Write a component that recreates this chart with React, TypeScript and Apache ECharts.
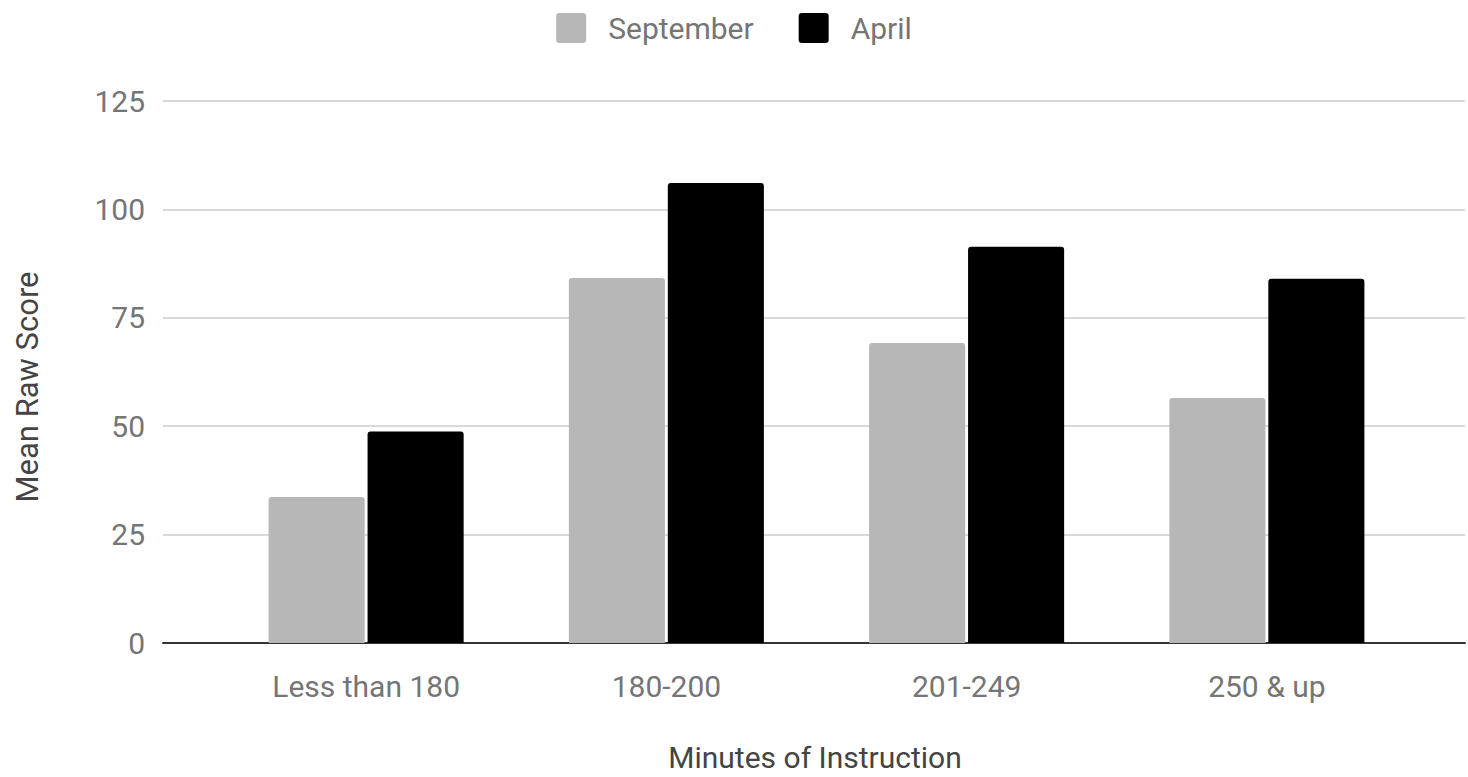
import React, { useEffect, useRef } from "react";
import * as echarts from "echarts";

const categories = ["Less than 180", "180-200", "201-249", "250 & up"];
const september = [33.7, 84.2, 69.2, 56.5];
const april = [48.8, 106.1, 91.4, 84.0];
const seriesNames = ["September", "April"];
const yTicks = { min: 0, max: 125, interval: 25 };
const xTitle = "Minutes of Instruction";
const yTitle = "Mean Raw Score";

const swatch = "path://M3,0 H27 Q30,0 30,3 V27 Q30,30 27,30 H3 Q0,30 0,27 V3 Q0,0 3,0 Z";

export default function App() {
  const ref = useRef<HTMLDivElement>(null);
  useEffect(() => {
    if (!ref.current) return;
    const chart = echarts.init(ref.current, null, { renderer: "svg" });
    const font = "Roboto";
    const tickColor = "#757575";
    const titleColor = "#444444";
    chart.setOption({
      animation: false,
      backgroundColor: "#ffffff",
      textStyle: { fontFamily: font },
      legend: {
        data: seriesNames,
        top: 8,
        left: "center",
        itemWidth: 30,
        itemHeight: 30,
        itemGap: 45,
        icon: swatch,
        textStyle: { fontFamily: font, fontSize: 30, color: tickColor, padding: [0, 0, 0, 17] },
      },
      grid: [
        { left: 163, right: 3, top: 101, bottom: 134, outerBoundsMode: "none" },
        { left: 216, right: 51, top: 101, bottom: 134, outerBoundsMode: "none" },
      ],
      graphic: [
        {
          type: "text",
          x: 815,
          y: 757,
          style: {
            text: xTitle,
            fontFamily: font,
            fontSize: 30,
            fill: titleColor,
            align: "center",
            verticalAlign: "middle",
          },
        },
        {
          type: "text",
          x: 27,
          y: 387,
          rotation: Math.PI / 2,
          style: {
            text: yTitle,
            fontFamily: font,
            fontSize: 31,
            fill: titleColor,
            align: "center",
            verticalAlign: "middle",
          },
        },
      ],
      xAxis: [
        {
          gridIndex: 0,
          type: "value",
          min: 0,
          max: 1,
          axisLabel: { show: false },
          axisTick: { show: false },
          splitLine: { show: false },
          axisLine: { show: true, lineStyle: { color: "#333333", width: 2 } },
        },
        {
          gridIndex: 1,
          type: "category",
          data: categories,
          axisLine: { show: false },
          axisTick: { show: false },
          axisLabel: { fontFamily: font, fontSize: 30, color: tickColor, margin: 28 },
        },
      ],
      yAxis: [
        {
          gridIndex: 0,
          type: "value",
          min: yTicks.min,
          max: yTicks.max,
          interval: yTicks.interval,
          axisLine: { show: false },
          axisTick: { show: false },
          axisLabel: { fontFamily: font, fontSize: 30, color: tickColor, margin: 18 },
          splitLine: { show: true, lineStyle: { color: "#cccccc", width: 1.5 } },
        },
        {
          gridIndex: 1,
          type: "value",
          min: yTicks.min,
          max: yTicks.max,
          interval: yTicks.interval,
          show: false,
          splitLine: { show: false },
        },
      ],
      series: [
        {
          name: seriesNames[0],
          type: "bar",
          xAxisIndex: 1,
          yAxisIndex: 1,
          data: september,
          barWidth: "32%",
          barGap: "3%",
          itemStyle: { color: "#b7b7b7", borderRadius: [3, 3, 0, 0] },
        },
        {
          name: seriesNames[1],
          type: "bar",
          xAxisIndex: 1,
          yAxisIndex: 1,
          data: april,
          barWidth: "32%",
          barGap: "3%",
          itemStyle: { color: "#000000", borderRadius: [3, 3, 0, 0] },
        },
      ],
    });
    return () => chart.dispose();
  }, []);
  return (
    <div
      ref={ref}
      style={{ position: "fixed", left: 0, top: 0, width: 1468, height: 777 }}
    />
  );
}
